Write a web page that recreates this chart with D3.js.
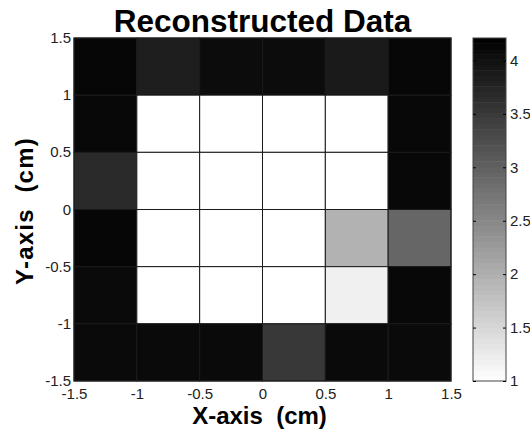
<!DOCTYPE html>
<html>
<head>
<meta charset="utf-8">
<script src="https://cdn.jsdelivr.net/npm/d3@7/dist/d3.min.js"></script>
<style>
  html, body { margin: 0; padding: 0; background: #fff; }
  svg { display: block; font-family: Arial, "Liberation Sans", sans-serif; }
</style>
</head>
<body>
<svg id="chart" width="530" height="435"></svg>
<script>
// Cell left edges (cm) along X and bottom edges along Y
const xEdges = [-1.5, -1, -0.5, 0, 0.5, 1];
const yEdges = [1, 0.5, 0, -0.5, -1, -1.5];
const cellSize = 0.5;

// Reconstructed values, one row per Y band (top row first)
const row1 = [4.13, 3.83, 4.06, 4.06, 3.88, 4.12];
const row2 = [4.11, 1.0, 1.0, 1.0, 1.0, 4.11];
const row3 = [3.68, 1.0, 1.0, 1.0, 1.0, 4.11];
const row4 = [4.13, 1.0, 1.0, 1.0, 1.97, 2.93];
const row5 = [4.08, 1.0, 1.0, 1.0, 1.19, 4.11];
const row6 = [4.08, 4.08, 4.08, 3.50, 4.08, 4.08];
const rows = [row1, row2, row3, row4, row5, row6];

const axisTicks = [-1.5, -1, -0.5, 0, 0.5, 1, 1.5];
const colorTicks = [1, 1.5, 2, 2.5, 3, 3.5, 4];
const colorDomain = [1, 4.21];
const nLevels = 64;

const svg = d3.select("#chart");
const plot = { left: 74, right: 451, top: 38, bottom: 381 };
const cbar = { left: 473, right: 506 };
const tickFont = 15;

const x = d3.scaleLinear().domain([-1.5, 1.5]).range([plot.left, plot.right]);
const y = d3.scaleLinear().domain([-1.5, 1.5]).range([plot.bottom, plot.top]);
const gray = d3.scaleLinear().domain(colorDomain).range([255, 0]).clamp(true);
const color = v => { const g = Math.round(gray(v)); return `rgb(${g},${g},${g})`; };

// Heatmap cells
const cells = [];
rows.forEach((r, i) => r.forEach((v, j) => cells.push({ x0: xEdges[j], y0: yEdges[i], v })));
svg.append("g").selectAll("rect").data(cells).join("rect")
  .attr("x", d => x(d.x0))
  .attr("y", d => y(d.y0 + cellSize))
  .attr("width", d => x(d.x0 + cellSize) - x(d.x0))
  .attr("height", d => y(d.y0) - y(d.y0 + cellSize))
  .attr("fill", d => color(d.v))
  .attr("stroke", "#1a1a1a")
  .attr("stroke-width", 1);

// Axes
const tickFmt = d => String(d);
const styleTicks = sel => sel.selectAll("text")
  .attr("font-size", tickFont).attr("fill", "#222")
  .attr("font-family", "Arial, 'Liberation Sans', sans-serif");

const xAxis = svg.append("g").attr("transform", `translate(0,${plot.bottom})`)
  .call(d3.axisBottom(x).tickValues(axisTicks).tickSize(0).tickPadding(6).tickFormat(tickFmt));
xAxis.select(".domain").remove();
styleTicks(xAxis);
xAxis.selectAll("text").attr("dy", null).attr("y", 18);

const yAxis = svg.append("g").attr("transform", `translate(${plot.left},0)`)
  .call(d3.axisLeft(y).tickValues(axisTicks).tickSize(0).tickPadding(3).tickFormat(tickFmt));
yAxis.select(".domain").remove();
styleTicks(yAxis);
yAxis.selectAll("text").attr("dy", "0.3em");

// Plot frame
svg.append("rect")
  .attr("x", plot.left).attr("y", plot.top)
  .attr("width", plot.right - plot.left).attr("height", plot.bottom - plot.top)
  .attr("fill", "none").attr("stroke", "#222").attr("stroke-width", 1);

// Colorbar: banded grayscale
const cy = d3.scaleLinear().domain(colorDomain).range([plot.bottom, plot.top]);
const step = (colorDomain[1] - colorDomain[0]) / nLevels;
const bands = d3.range(nLevels).map(k => colorDomain[0] + k * step);
svg.append("g").selectAll("rect").data(bands).join("rect")
  .attr("x", cbar.left)
  .attr("y", d => cy(d + step))
  .attr("width", cbar.right - cbar.left)
  .attr("height", d => cy(d) - cy(d + step) + 0.5)
  .attr("fill", d => color(d + step / 2));

svg.append("rect")
  .attr("x", cbar.left).attr("y", plot.top)
  .attr("width", cbar.right - cbar.left).attr("height", plot.bottom - plot.top)
  .attr("fill", "none").attr("stroke", "#444").attr("stroke-width", 1);

const cAxis = svg.append("g").attr("transform", `translate(${cbar.right},0)`)
  .call(d3.axisRight(cy).tickValues(colorTicks).tickSize(-3).tickPadding(4).tickFormat(tickFmt));
cAxis.select(".domain").remove();
cAxis.selectAll("line").attr("stroke", "#000");
styleTicks(cAxis);
const cAxisL = svg.append("g").attr("transform", `translate(${cbar.left},0)`)
  .call(d3.axisLeft(cy).tickValues(colorTicks).tickSize(-3).tickFormat(""));
cAxisL.select(".domain").remove();
cAxisL.selectAll("line").attr("stroke", "#000");

// Titles
svg.append("text")
  .attr("x", (plot.left + plot.right) / 2).attr("y", 32)
  .attr("text-anchor", "middle").attr("font-size", 31.5).attr("font-weight", "bold")
  .text("Reconstructed Data");
svg.append("text")
  .attr("x", (plot.left + plot.right) / 2 - 3).attr("y", 424)
  .attr("text-anchor", "middle").attr("font-size", 24).attr("font-weight", "bold")
  .attr("xml:space", "preserve")
  .text("X-axis  (cm)");
svg.append("text")
  .attr("transform", `translate(33,211) rotate(-90)`)
  .attr("text-anchor", "middle").attr("font-size", 24).attr("font-weight", "bold")
  .attr("letter-spacing", 1.2)
  .attr("xml:space", "preserve")
  .text("Y-axis  (cm)");
</script>
</body>
</html>
